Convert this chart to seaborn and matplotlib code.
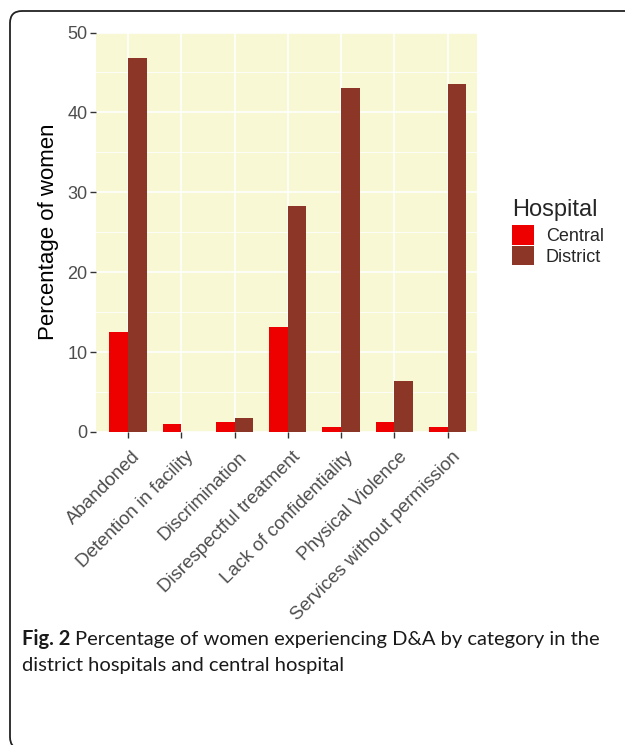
import matplotlib
matplotlib.use("Agg")
import matplotlib.pyplot as plt
import matplotlib.transforms as mtransforms
import seaborn as sns
import pandas as pd
from matplotlib.patches import FancyBboxPatch, Patch
from matplotlib.ticker import MultipleLocator

categories = ["Abandoned", "Detention in facility", "Discrimination",
              "Disrespectful treatment", "Lack of confidentiality",
              "Physical Violence", "Services without permission"]
central = [12.5, 0.96, 1.3, 13.2, 0.6, 1.3, 0.6]
district = [46.8, 0.0, 1.8, 28.3, 43.1, 6.4, 43.6]
hospitals = ["Central", "District"]
colors = {"Central": "#EE0000", "District": "#8B3626"}

df = pd.DataFrame({
    "Category": categories * 2,
    "Hospital": ["Central"] * len(categories) + ["District"] * len(categories),
    "Percent": central + district,
})

sns.set_theme(style="white")
plt.rcParams["font.family"] = ["Liberation Sans", "DejaVu Sans"]

W, H = 625, 745
fig = plt.figure(figsize=(W / 100, H / 100), dpi=100)
ax = fig.add_axes([96 / W, (H - 432) / H, 381 / W, 399.5 / H])

sns.barplot(data=df, x="Category", y="Percent", hue="Hospital",
            hue_order=hospitals, order=categories, palette=colors,
            width=0.7, saturation=1, linewidth=0, ax=ax)

ax.set_facecolor("#F8F8D4")
ax.set_axisbelow(True)
for s in ax.spines.values():
    s.set_visible(False)
ax.set_ylim(0, 50)
ax.set_xlim(-0.6, 6.55)
ax.yaxis.set_major_locator(MultipleLocator(10))
ax.yaxis.set_minor_locator(MultipleLocator(5))
ax.grid(True, which="major", axis="both", color="white", linewidth=1.2)
ax.grid(True, which="minor", axis="y", color="white", linewidth=0.6)
ax.tick_params(axis="both", which="major", length=4, width=1.0,
               color="#333333", labelcolor="#4D4D4D", labelsize=13, pad=2,
               left=True, bottom=True)
ax.tick_params(axis="x", labelsize=13.5)
ax.tick_params(axis="y", which="minor", length=0)
ax.set_xticks(range(len(categories)))
ax.set_xticklabels(categories, rotation=45, ha="right", va="top",
                   rotation_mode="anchor")
offset = mtransforms.ScaledTranslation(4 / 100, -8 / 100, fig.dpi_scale_trans)
for lab in ax.get_xticklabels():
    lab.set_transform(lab.get_transform() + offset)
ax.set_xlabel("")
ax.set_ylabel("Percentage of women", fontsize=16, color="black", labelpad=6)

ax.get_legend().remove()
handles = [Patch(facecolor=colors[h], edgecolor="none") for h in hospitals]
lg = fig.legend(handles, hospitals, title="Hospital", loc="upper left",
                bbox_to_anchor=(496 / W, 1 - 183 / H), frameon=False,
                fontsize=13, title_fontsize=17, handlelength=1.2,
                handleheight=1.25, labelspacing=0.05, handletextpad=0.65,
                alignment="left")
lg._legend_box.sep = 3

# caption
fig.canvas.draw()
r = fig.canvas.get_renderer()
cap_font = ["Lato", "DejaVu Sans"]
y1 = 1 - 645 / H
t1 = fig.text(22 / W, y1, "Fig. 2", fontsize=14.5, fontweight="bold",
              family=cap_font, color="#1a1a1a", va="baseline")
bb = t1.get_window_extent(renderer=r)
fig.text((bb.x1 + 5) / W, y1,
         "Percentage of women experiencing D&A by category in the",
         fontsize=14.5, family=cap_font, color="#1a1a1a", va="baseline")
fig.text(22 / W, 1 - 671 / H, "district hospitals and central hospital",
         fontsize=14.5, family=cap_font, color="#1a1a1a", va="baseline")

frame = FancyBboxPatch((0.10, -0.04), 6.5, 7.38,
                       boxstyle="round,pad=0,rounding_size=0.12",
                       transform=fig.dpi_scale_trans, facecolor="none",
                       edgecolor="#222222", linewidth=1.3, clip_on=False)
fig.patches.append(frame)

fig.savefig("out.png", dpi=100)
